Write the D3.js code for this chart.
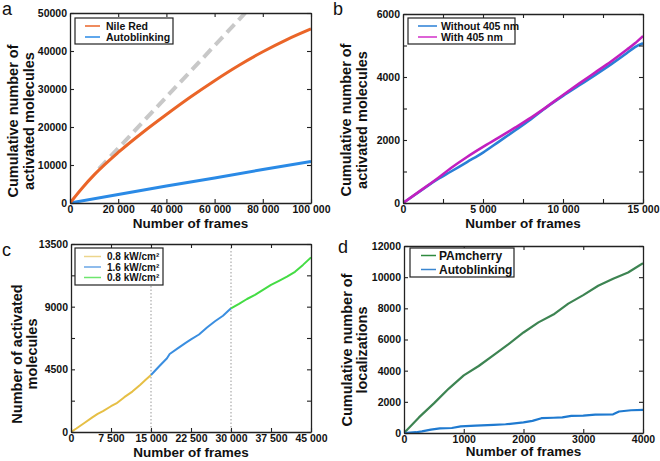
<!DOCTYPE html>
<html><head><meta charset="utf-8">
<script src="https://cdn.jsdelivr.net/npm/d3@7"></script>
<style>body{margin:0;background:#fff}svg{display:block}text{font-family:"Liberation Sans",Arial,sans-serif}</style>
</head><body><div id="chart"></div>
<script>
// ---------- DATA ----------
// Panel a
const aFrames = [0,5000,10000,20000,30000,40000,50000,60000,70000,80000,90000,100000];
const aNileRed = [0,3900,7400,13300,18500,23300,27900,32200,36200,39800,43000,45800];
const aAutoFrames = [0,20000,40000,60000,80000,100000];
const aAuto = [0,2250,4450,6600,8800,10900];
const aRefFrames = [12000,72700];
const aRef = [9000,50000];
// Panel b
const bFrames = [0,1000,2000,3000,4000,5000,6000,7000,8000,9000,10000,11000,12000,13000,14000,14500,15000];
const bWithout = [0,350,700,1000,1300,1600,1950,2300,2660,3050,3400,3730,4060,4400,4760,4950,5070];
const bWith = [0,360,720,1110,1460,1780,2080,2390,2710,3060,3430,3790,4140,4490,4870,5070,5300];
// Panel c
const cFrames1 = [0,1000,2500,4000,5000,6000,7500,8500,10000,11500,13000,14000,15000];
const cLow1 = [0,250,650,1050,1300,1500,1850,2050,2500,2900,3400,3750,4090];
const cFrames2 = [15000,16500,18000,18500,20000,21500,22500,24000,25500,27000,28500,30000];
const cHigh = [4090,4700,5300,5600,6000,6400,6650,7000,7500,7950,8350,8880];
const cFrames3 = [30000,31500,33000,34500,36000,37500,39000,40500,42000,43500,45000];
const cLow2 = [8880,9200,9550,9850,10200,10560,10850,11150,11500,12000,12540];
const cSwitch = [15000,30000];
// Panel d
const dFramesG = [0,250,500,750,1000,1250,1500,1750,2000,2250,2500,2750,3000,3250,3500,3750,4000];
const dPAm = [0,1000,1900,2850,3700,4300,5000,5700,6450,7100,7600,8300,8850,9450,9900,10300,10900];
const dFramesB = [0,200,300,450,600,800,950,1200,1500,1700,2000,2150,2300,2500,2650,2800,3000,3200,3500,3600,3800,4000];
const dAuto = [0,50,100,220,300,320,430,470,520,560,680,780,950,980,1000,1100,1120,1180,1200,1380,1460,1480];
// Tick labels
const aXTicks = [0,20000,40000,60000,80000,100000], aYTicks = [0,10000,20000,30000,40000,50000];
const bXTicks = [0,5000,10000,15000], bYTicks = [0,2000,4000,6000];
const cXTicks = [0,7500,15000,22500,30000,37500,45000], cYTicks = [0,4500,9000,13500];
const dXTicks = [0,1000,2000,3000,4000], dYTicks = [0,2000,4000,6000,8000,10000,12000];

// ---------- DRAW ----------
const svg = d3.select("#chart").append("svg").attr("width",660).attr("height",461);
const FONT = '"Liberation Sans", Arial, sans-serif';
const spaced = d => d3.format(",")(d).replace(/,/g," ");
const plain = d => String(d);
const zip = (xs,ys) => xs.map((x,i)=>[x,ys[i]]);

function panel(o){
  const g = svg.append("g");
  const x = d3.scaleLinear().domain(o.xd).range([o.box[0],o.box[1]]);
  const y = d3.scaleLinear().domain(o.yd).range([o.box[3],o.box[2]]);
  const cid = "clip"+o.label;
  svg.append("clipPath").attr("id",cid).append("rect")
    .attr("x",o.box[0]).attr("y",o.box[2]).attr("width",o.box[1]-o.box[0]).attr("height",o.box[3]-o.box[2]);
  const xAll = o.xMinor ? o.xTicks.concat(o.xMinor) : o.xTicks;
  const yAll = o.yMinor ? o.yTicks.concat(o.yMinor) : o.yTicks;
  const axStyle = sel => { sel.select(".domain").attr("stroke","#222").attr("stroke-width",1.3);
    sel.selectAll(".tick line").attr("stroke","#222").attr("stroke-width",1.1);
    sel.selectAll("text").attr("font-family",FONT).attr("font-weight","bold").attr("font-size","10.5px").attr("fill","#111"); };
  if (o.guides) o.guides.forEach(v => g.append("line").attr("x1",x(v)).attr("x2",x(v))
      .attr("y1",o.box[2]).attr("y2",o.box[3]).attr("stroke","#999").attr("stroke-width",1).attr("stroke-dasharray","1.5,2"));
  o.series.forEach(s => {
    g.append("path").datum(s.pts).attr("clip-path",`url(#${cid})`)
      .attr("fill","none").attr("stroke",s.color).attr("stroke-width",s.w)
      .attr("stroke-dasharray",s.dash||null).attr("stroke-linejoin","round")
      .attr("d",d3.line().x(d=>x(d[0])).y(d=>y(d[1])).curve(s.smooth?d3.curveMonotoneX:d3.curveLinear));
  });
  g.append("g").attr("transform",`translate(0,${o.box[3]})`)
    .call(d3.axisBottom(x).tickValues(xAll).tickSizeInner(-4).tickSizeOuter(0).tickPadding(3)
      .tickFormat(d => o.xTicks.includes(d) ? o.xFmt(d) : "")).call(axStyle);
  g.append("g").attr("transform",`translate(0,${o.box[2]})`)
    .call(d3.axisTop(x).tickValues(xAll).tickSizeInner(-4).tickSizeOuter(0).tickFormat("")).call(axStyle);
  g.append("g").attr("transform",`translate(${o.box[0]},0)`)
    .call(d3.axisLeft(y).tickValues(yAll).tickSizeInner(-4).tickSizeOuter(0).tickPadding(3)
      .tickFormat(d => o.yTicks.includes(d) ? o.yFmt(d) : "")).call(axStyle);
  g.append("g").attr("transform",`translate(${o.box[1]},0)`)
    .call(d3.axisRight(y).tickValues(yAll).tickSizeInner(-4).tickSizeOuter(0).tickFormat("")).call(axStyle);
  g.append("text").attr("x",(o.box[0]+o.box[1])/2).attr("y",o.xtY).attr("text-anchor","middle")
    .attr("font-weight","bold").attr("font-size","13.5px").attr("fill","#111").text("Number of frames");
  o.ytitle.forEach((t,i) => g.append("text")
    .attr("transform",`translate(${o.box[0]+o.ytX[i]},${o.ytC}) rotate(-90)`).attr("text-anchor","middle")
    .attr("font-weight","bold").attr("font-size","14.5px").attr("fill","#111").text(t));
  g.append("text").attr("x",o.lp[0]).attr("y",o.lp[1]).attr("font-size","18px").attr("fill","#111").text(o.label);
  const L = o.legend, lx = o.box[0]+L.x, ly = o.box[2]+L.y;
  g.append("rect").attr("x",lx).attr("y",ly).attr("width",L.w).attr("height",L.h)
    .attr("fill","#fff").attr("stroke","#222").attr("stroke-width",1.2);
  L.items.forEach((it,i) => {
    const yy = ly + L.rows[i];
    g.append("line").attr("x1",lx+L.s[0]).attr("x2",lx+L.s[1]).attr("y1",yy).attr("y2",yy)
      .attr("stroke",it.color).attr("stroke-width",L.sw||1.5);
    g.append("text").attr("x",lx+L.tx).attr("y",yy).attr("dy","0.36em")
      .attr("font-weight","bold").attr("font-size",L.fs).attr("fill","#111").text(it.name);
  });
}

panel({label:"a", lp:[2,15], box:[70,311,13,203], xd:[0,100000], yd:[0,50000],
  xTicks:aXTicks, yTicks:aYTicks, xFmt:spaced, yFmt:plain, xtY:228, ytX:[-52,-36], ytC:121,
  ytitle:["Cumulative number of","activated molecules"],
  series:[{pts:zip(aRefFrames,aRef),color:"#c8c8c8",w:4,dash:"11,6"},
          {pts:zip(aAutoFrames,aAuto),color:"#2a8ae6",w:3},
          {pts:zip(aFrames,aNileRed),color:"#ea6528",w:3,smooth:true}],
  legend:{x:5,y:5,w:98,h:26,rows:[8,19],s:[10,25],tx:31,fs:"10.5px",
    items:[{name:"Nile Red",color:"#ea6528"},{name:"Autoblinking",color:"#2a8ae6"}]}});

panel({label:"b", lp:[333,15], box:[403,643,14,203], xd:[0,15000], yd:[0,6000],
  xTicks:bXTicks, xMinor:[2500,7500,12500], yTicks:bYTicks, yMinor:[1000,3000,5000],
  xFmt:spaced, yFmt:plain, xtY:228, ytX:[-52,-36], ytC:120,
  ytitle:["Cumulative number of","activated molecules"],
  series:[{pts:zip(bFrames,bWithout),color:"#2a7fd6",w:2.6,smooth:true},
          {pts:zip(bFrames,bWith),color:"#c21fbf",w:2.6,smooth:true}],
  legend:{x:5,y:4,w:107,h:26,rows:[8,19],s:[10,29],tx:33,fs:"10.5px",
    items:[{name:"Without 405 nm",color:"#2a7fd6"},{name:"With 405 nm",color:"#d22fc8"}]}});

panel({label:"c", lp:[2,256], box:[71,311,244,432], xd:[0,45000], yd:[0,13500],
  xTicks:cXTicks, yTicks:cYTicks, yMinor:[2250,6750,11250], guides:cSwitch,
  xFmt:spaced, yFmt:plain, xtY:457, ytX:[-49,-34], ytC:354,
  ytitle:["Number of activated","molecules"],
  series:[{pts:zip(cFrames1,cLow1),color:"#e6bf45",w:2},
          {pts:zip(cFrames2,cHigh),color:"#3a8ee0",w:2},
          {pts:zip(cFrames3,cLow2),color:"#44dc44",w:2}],
  legend:{x:4,y:4,w:88,h:37,rows:[8.5,19,29.5],s:[9,26],tx:32,fs:"10px",
    items:[{name:"0.8 kW/cm²",color:"#ecd58c"},{name:"1.6 kW/cm²",color:"#6aa6e6"},{name:"0.8 kW/cm²",color:"#6ee66e"}]}});

panel({label:"d", lp:[338,253], box:[404,643,246,433], xd:[0,4000], yd:[0,12000],
  xTicks:dXTicks, yTicks:dYTicks, xFmt:plain, yFmt:plain, xtY:456, ytX:[-52,-37], ytC:350,
  ytitle:["Cumulative number of","localizations"],
  series:[{pts:zip(dFramesG,dPAm),color:"#3d8452",w:2.2},
          {pts:zip(dFramesB,dAuto),color:"#1f7ad0",w:2.2}],
  legend:{x:6,y:2,w:104,h:29,rows:[7.5,21.5],s:[11,26],tx:29,fs:"12px",
    items:[{name:"PAmcherry",color:"#2e8a3e"},{name:"Autoblinking",color:"#3a86d0"}]}});
</script></body></html>
